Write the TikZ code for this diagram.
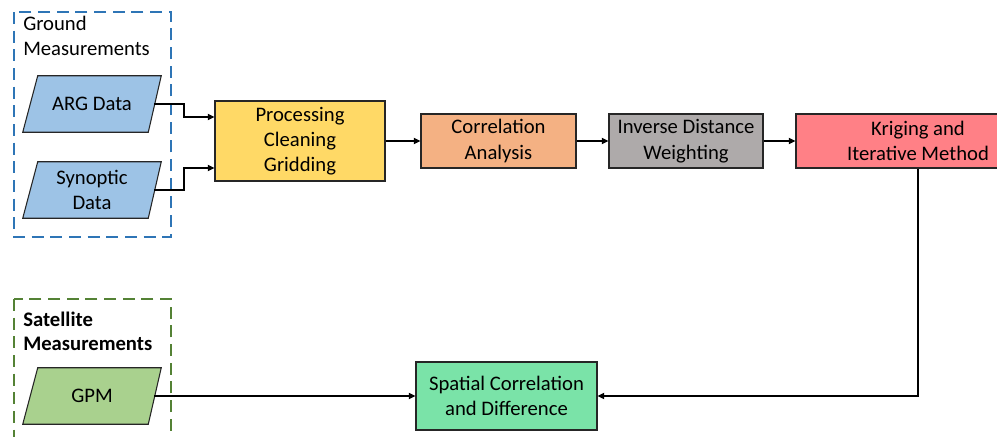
\documentclass[tikz,border=0pt]{standalone}
\usepackage{fontspec}
\setmainfont{Carlito}
\usetikzlibrary{arrows.meta,calc,backgrounds}
\definecolor{gblue}{HTML}{2E75B6}
\definecolor{ggreen}{HTML}{548235}
\definecolor{pblue}{HTML}{9DC3E6}
\definecolor{pgreen}{HTML}{A9D18E}
\definecolor{byellow}{HTML}{FFD966}
\definecolor{borange}{HTML}{F4B183}
\definecolor{bgray}{HTML}{AEAAAA}
\definecolor{bpink}{HTML}{FF8086}
\definecolor{bmint}{HTML}{7AE3A8}
\begin{document}
\begin{tikzpicture}[x=0.75pt,y=-0.75pt,
  every node/.style={font=\fontsize{15.5}{19}\selectfont},
  group/.style={line width=1.8pt,dash pattern=on 9pt off 5pt},
  ptext/.style={inner sep=0pt,minimum width=124*0.75pt,minimum height=56*0.75pt,align=center},
  pshape/.style={draw=black!85,line width=0.8pt},
  box/.style={draw=black!85,line width=0.8pt,align=center,inner sep=0pt},
  arr/.style={line width=1.5pt,-{Triangle[length=5pt,width=4.5pt]}}]
\useasboundingbox (0,0) rectangle (997,436);
% groups
\draw[group,gblue] (14,12) rectangle (171,237);
\node[anchor=west,inner sep=0pt,align=left] (glab) at (23,36) {Ground\\Measurements};
\draw[group,ggreen] (14,299) rectangle (171,445);
\node[anchor=west,inner sep=0pt,align=left,font=\fontsize{15.5}{18}\selectfont\bfseries] (slab) at (23,331) {Satellite\\Measurements};
% inputs
\node[ptext] (arg) at (92,104) {ARG Data};
\node[ptext] (syn) at (92,190) {Synoptic\\Data};
\node[ptext] (gpm) at (92,396) {GPM};
\begin{scope}[on background layer]
\foreach \n/\c in {arg/pblue,syn/pblue,gpm/pgreen}{
  \draw[pshape,fill=\c] ($(\n.north west)+(8,0)$) -- ($(\n.north east)+(7,0)$)
    -- ($(\n.south east)+(-6,0)$) -- ($(\n.south west)+(-7,0)$) -- cycle;
}
\end{scope}
% process boxes
\node[box,fill=byellow,minimum width=170*0.75pt,minimum height=80*0.75pt] (proc) at (300,141) {Processing\\Cleaning\\Gridding};
\node[box,fill=borange,minimum width=155*0.75pt,minimum height=54*0.75pt] (cor) at (498.5,141) {Correlation\\Analysis};
\node[box,fill=bgray,minimum width=154*0.75pt,minimum height=54*0.75pt] (idw) at (686,141) {Inverse Distance\\Weighting};
\node[box,fill=bpink,minimum width=244*0.75pt,minimum height=54*0.75pt] (kri) at (918,141) {Kriging and\\Iterative Method};
\node[box,fill=bmint,minimum width=181*0.75pt,minimum height=68*0.75pt] (spa) at (506.5,396) {Spatial Correlation\\and Difference};
% connectors
\draw[arr] (arg.east) -- ++(30,0) |- ($(proc.west)+(0,-24)$);
\draw[arr] (syn.east) -- ++(30,0) |- ($(proc.west)+(0,27)$);
\draw[arr] (proc) -- (cor);
\draw[arr] (cor) -- (idw);
\draw[arr] (idw) -- (kri);
\draw[arr] (kri.south) |- (spa.east);
\draw[arr] (gpm.east) -- (spa.west);
\end{tikzpicture}
\end{document}
